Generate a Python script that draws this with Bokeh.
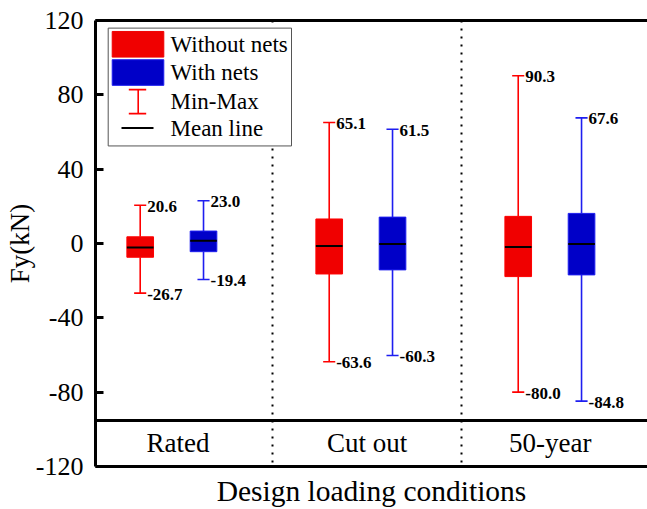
import numpy as np
from bokeh.plotting import figure
from bokeh.models import Range1d, FixedTicker, LinearAxis
from bokeh.core.properties import value
from bokeh.embed import file_html
from bokeh.resources import INLINE

# ---------------- data ----------------
categories = ["Rated", "Cut out", "50-year"]
cat_pos = [1.0, 2.0, 3.0]
cat_label_x = [1.0, 2.0, 2.97]

# Without nets (red)
wo_max = [20.6, 65.1, 90.3]
wo_q3 = [3.6, 13.2, 14.6]
wo_mean = [-2.2, -1.3, -1.9]
wo_q1 = [-7.4, -16.4, -17.8]
wo_min = [-26.7, -63.6, -80.0]

# With nets (blue)
w_max = [23.0, 61.5, 67.6]
w_q3 = [6.7, 14.2, 16.2]
w_mean = [1.5, -0.3, -0.3]
w_q1 = [-4.4, -14.2, -16.9]
w_min = [-19.4, -60.3, -84.8]

y_ticks = [-120, -80, -40, 0, 40, 80, 120]
dividers = [1.5, 2.5]
band_line = -95

legend_labels = ["Without nets", "With nets", "Min-Max", "Mean line"]

# ---------------- style ----------------
FONT = "Liberation Serif"
RED_FILL, RED_LINE = "#F00000", "#FF0000"
BLUE_FILL, BLUE_LINE = "#0000C8", "#1E1EF0"
OFF_RED, OFF_BLUE = -0.2, 0.135
BOX_W = 0.141
CAP_HALF = 0.032

p = figure(width=647, height=509,
           x_range=Range1d(0.5635, 3.484), y_range=Range1d(-120, 120),
           output_backend="svg", toolbar_location=None,
           min_border_left=95, min_border_top=20, min_border_bottom=42,
           min_border_right=0, outline_line_color=None)
p.grid.visible = False

# y axis
ya = p.yaxis[0]
ya.ticker = FixedTicker(ticks=y_ticks)
ya.major_label_overrides = {t: str(t) for t in y_ticks}
ya.major_tick_in = 8
ya.major_tick_out = 0
ya.major_tick_line_width = 3
ya.minor_tick_line_color = None
ya.axis_line_width = 3
ya.major_label_text_font = FONT
ya.major_label_text_font_size = "26px"
ya.major_label_text_color = "black"
ya.major_label_standoff = 12
ya.axis_label = "Fy(kN)"
ya.axis_label_text_font = FONT
ya.axis_label_text_font_style = "normal"
ya.axis_label_text_font_size = "27px"
ya.axis_label_text_color = "black"
ya.axis_label_standoff = -2

# x axis (bottom)
xa = p.xaxis[0]
xa.ticker = FixedTicker(ticks=[])
xa.major_label_text_font_size = "0px"
xa.major_tick_in = 0
xa.major_tick_out = 0
xa.minor_tick_line_color = None
xa.major_label_standoff = 0
xa.axis_line_width = 3
xa.axis_label = "Design loading conditions"
xa.axis_label_text_font = FONT
xa.axis_label_text_font_style = "normal"
xa.axis_label_text_font_size = "29.5px"
xa.axis_label_text_color = "black"
xa.axis_label_standoff = 8

# top border line
top = LinearAxis(ticker=FixedTicker(ticks=[]), major_label_text_font_size="0px",
                 major_tick_in=0, major_tick_out=0, minor_tick_line_color=None,
                 major_label_standoff=0, axis_line_width=3)
p.add_layout(top, "above")

# dividers and category band
p.vspan(x=dividers, line_color="black", line_width=2, line_dash="2 6")
p.hspan(y=[band_line], line_color="black", line_width=3)
p.text(x=cat_label_x, y=[-107.3] * 3, text=categories, text_align="center",
       text_baseline="middle", text_font=value(FONT), text_font_size="27px",
       text_color="black")


def draw_series(xs, vmax, q3, mean, q1, vmin, fill, line):
    xs = np.array(xs)
    p.segment(x0=xs, y0=vmax, x1=xs, y1=q3, line_color=line, line_width=1.6)
    p.segment(x0=xs, y0=q1, x1=xs, y1=vmin, line_color=line, line_width=1.6)
    p.segment(x0=xs - CAP_HALF, y0=vmax, x1=xs + CAP_HALF, y1=vmax, line_color=line, line_width=1.6)
    p.segment(x0=xs - CAP_HALF, y0=vmin, x1=xs + CAP_HALF, y1=vmin, line_color=line, line_width=1.6)
    p.vbar(x=xs, width=BOX_W, top=q3, bottom=q1, fill_color=fill, line_color=line, line_width=1)
    p.segment(x0=xs - BOX_W / 2, y0=mean, x1=xs + BOX_W / 2, y1=mean, line_color="black", line_width=2)
    for vals in (vmax, vmin):
        p.text(x=xs, y=vals, text=[f"{v:.1f}" for v in vals], x_offset=7, y_offset=1,
               text_baseline="middle", text_align="left", text_font=value(FONT),
               text_font_style="bold", text_font_size="17px", text_color="black")


draw_series(np.array(cat_pos) + OFF_RED, wo_max, wo_q3, wo_mean, wo_q1, wo_min, RED_FILL, RED_LINE)
draw_series(np.array(cat_pos) + OFF_BLUE, w_max, w_q3, w_mean, w_q1, w_min, BLUE_FILL, BLUE_LINE)

# ---------------- legend (drawn in the plot) ----------------
p.quad(left=0.6307, right=1.6005, bottom=52.5, top=115.9, fill_color="white",
       line_color="#555555", line_width=1)
p.quad(left=0.6519, right=0.9249, bottom=100.3, top=114.1, fill_color=RED_FILL, line_color=RED_FILL)
p.quad(left=0.6519, right=0.9249, bottom=85.1, top=98.9, fill_color=BLUE_FILL, line_color=BLUE_LINE)
p.segment(x0=[0.7894, 0.7397, 0.7397], y0=[69.9, 82.8, 69.9],
          x1=[0.7894, 0.8317, 0.8317], y1=[82.8, 82.8, 69.9],
          line_color=RED_LINE, line_width=1.6)
p.segment(x0=0.7011, y0=62.2, x1=0.8704, y1=62.2, line_color="black", line_width=2)
p.text(x=[0.9603] * 4, y=[107.1, 92.1, 76.6, 61.8], text=legend_labels,
       text_baseline="middle", text_align="left", text_font=value(FONT),
       text_font_size="23px", text_color="black")

open("out.html", "w").write(file_html(p, INLINE))
